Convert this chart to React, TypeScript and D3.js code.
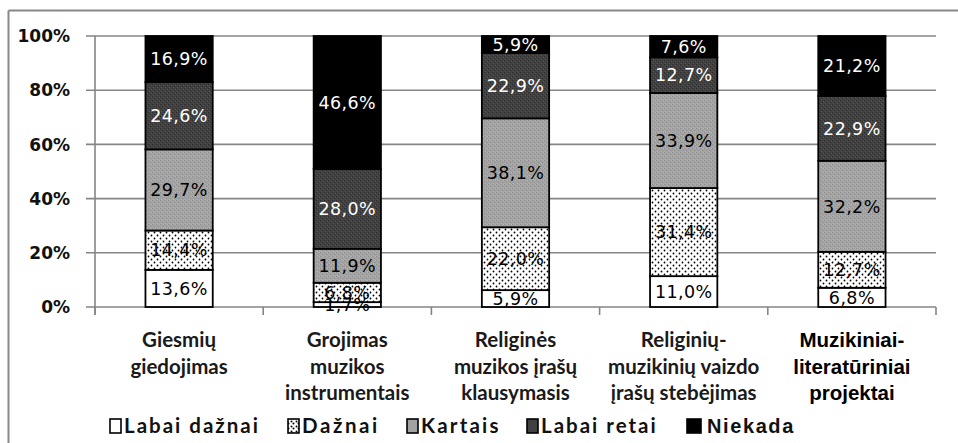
import React from "react";
import * as d3 from "d3";

const categories: string[][] = [
  ["Giesmių", "giedojimas"],
  ["Grojimas", "muzikos", "instrumentais"],
  ["Religinės", "muzikos įrašų", "klausymasis"],
  ["Religinių-", "muzikinių vaizdo", "įrašų stebėjimas"],
  ["Muzikiniai-", "literatūriniai", "projektai"],
];
const seriesNames = ["Labai dažnai", "Dažnai", "Kartais", "Labai retai", "Niekada"];
const labaiDaznai = [13.6, 1.7, 5.9, 11.0, 6.8];
const daznai = [14.4, 6.8, 22.0, 31.4, 12.7];
const kartais = [29.7, 11.9, 38.1, 33.9, 32.2];
const labaiRetai = [24.6, 28.0, 22.9, 12.7, 22.9];
const niekada = [16.9, 46.6, 5.9, 7.6, 21.2];
const yTicks = [0, 0.2, 0.4, 0.6, 0.8, 1.0];
const yTickLabels = ["0%", "20%", "40%", "60%", "80%", "100%"];

const W = 958;
const H = 443;
const fills = ["#ffffff", "url(#dots)", "url(#gray)", "url(#dark)", "#000000"];
const labelColors = ["#000", "#000", "#000", "#fff", "#fff"];
const legendFills = ["#ffffff", "url(#dotsL)", "#a2a2a2", "#414141", "#000000"];

export default function App() {
  const keys = ["s0", "s1", "s2", "s3", "s4"];
  const seriesArrays = [labaiDaznai, daznai, kartais, labaiRetai, niekada];
  const rows = categories.map((c, i) => {
    const r: any = { cat: c.join(" ") };
    keys.forEach((k, j) => (r[k] = seriesArrays[j][i]));
    return r;
  });
  const stack = d3.stack<any>().keys(keys).offset(d3.stackOffsetExpand);
  const stacked = stack(rows);

  const x = d3
    .scaleBand<string>()
    .domain(rows.map((r) => r.cat))
    .range([95, 936])
    .paddingInner(0.6)
    .paddingOuter(0.3);
  const y = d3.scaleLinear().domain([0, 1]).range([307, 36]);
  const step = x.step();
  const bw = x.bandwidth();

  const boundaries = d3.range(categories.length + 1).map((i) => 95 + i * step);

  const legendItems = [
    { box: 110, text: 124, font: "Lato", ls: 2 },
    { box: 288, text: 302, font: "Lato", ls: 2.6 },
    { box: 407, text: 421, font: "Lato", ls: 2.2 },
    { box: 527, text: 541, font: "Lato", ls: 2 },
    { box: 687, text: 707, font: "Liberation Sans", ls: 1.6 },
  ];

  return (
    <svg width={W} height={H} style={{ position: "absolute", left: 0, top: 0, background: "#fff" }}>
      <defs>
        <pattern id="dots" width="6" height="6" patternUnits="userSpaceOnUse">
          <rect width="6" height="6" fill="#fff" />
          <circle cx="1.5" cy="1.5" r="0.9" fill="#000" />
          <circle cx="4.5" cy="4.5" r="0.9" fill="#000" />
        </pattern>
        <pattern id="dotsL" width="5" height="5" patternUnits="userSpaceOnUse">
          <rect width="5" height="5" fill="#fff" />
          <circle cx="1.5" cy="1.5" r="1" fill="#000" />
          <circle cx="3.5" cy="3.5" r="1" fill="#000" />
        </pattern>
        <pattern id="gray" width="4" height="4" patternUnits="userSpaceOnUse">
          <rect width="4" height="4" fill="#a3a3a3" />
          <rect x="0" y="0" width="1" height="1" fill="#8f8f8f" />
          <rect x="2" y="2" width="1" height="1" fill="#8f8f8f" />
          <rect x="3" y="0" width="1" height="1" fill="#b3b3b3" />
          <rect x="1" y="3" width="1" height="1" fill="#b3b3b3" />
        </pattern>
        <pattern id="dark" width="4" height="4" patternUnits="userSpaceOnUse">
          <rect width="4" height="4" fill="#414141" />
          <rect x="0" y="0" width="1" height="1" fill="#2c2c2c" />
          <rect x="2" y="2" width="1" height="1" fill="#2c2c2c" />
          <rect x="3" y="1" width="1" height="1" fill="#555" />
          <rect x="1" y="3" width="1" height="1" fill="#555" />
        </pattern>
      </defs>
      <rect width={W} height={H} fill="#fff" />
      {/* frame */}
      <line x1={8.5} y1={10.5} x2={W} y2={10.5} stroke="#888" strokeWidth={2} />
      <line x1={8.5} y1={10.5} x2={8.5} y2={H} stroke="#888" strokeWidth={2} />

      {/* gridlines */}
      {yTicks.map((t, i) => (
        <g key={i}>
          <line x1={86} x2={936} y1={y(t)} y2={y(t)} stroke="#858585" strokeWidth={1.6} />
          <text
            x={70}
            y={y(t)}
            dy="0.36em"
            textAnchor="end"
            fontFamily="DejaVu Sans"
            fontWeight="bold"
            fontSize={17}
            fill="#111"
          >
            {yTickLabels[i]}
          </text>
        </g>
      ))}
      {/* y axis */}
      <line x1={95} x2={95} y1={36} y2={315} stroke="#858585" strokeWidth={1.6} />
      {boundaries.map((b, i) => (
        <line key={i} x1={b} x2={b} y1={307} y2={315} stroke="#858585" strokeWidth={1.6} />
      ))}

      {/* bars */}
      {stacked.map((s, si) => (
        <g key={si}>
          {s.map((d, ci) => (
            <rect
              key={ci}
              x={x(rows[ci].cat)}
              y={y(d[1])}
              width={bw}
              height={y(d[0]) - y(d[1])}
              fill={fills[si]}
              stroke="#000"
              strokeWidth={1.8}
            />
          ))}
        </g>
      ))}
      {/* labels */}
      {stacked.map((s, si) => (
        <g key={si}>
          {s.map((d, ci) => (
            <text
              key={ci}
              x={(x(rows[ci].cat) as number) + bw / 2}
              y={(y(d[0]) + y(d[1])) / 2}
              dy="0.36em"
              textAnchor="middle"
              fontFamily="DejaVu Sans"
              fontSize={17.5}
              letterSpacing={0.4}
              fill={labelColors[si]}
            >
              {seriesArrays[si][ci].toFixed(1).replace(".", ",") + "%"}
            </text>
          ))}
        </g>
      ))}

      {/* category labels */}
      {categories.map((lines, ci) => {
        const cx = (x(rows[ci].cat) as number) + bw / 2;
        const last = ci === categories.length - 1;
        return (
          <text
            key={ci}
            x={cx}
            textAnchor="middle"
            fontFamily={last ? "Liberation Sans" : "Lato"}
            fontWeight="bold"
            fontSize={last ? 20.5 : 20.5}
            fill={last ? "#000" : "#1a1a1a"}
          >
            {lines.map((l, li) => (
              <tspan key={li} x={cx} y={347 + li * 26.5}>
                {l}
              </tspan>
            ))}
          </text>
        );
      })}

      {/* legend */}
      {seriesNames.map((n, i) => (
        <g key={i}>
          <rect
            x={legendItems[i].box}
            y={419}
            width={i === 4 ? 14 : 11}
            height={14}
            fill={legendFills[i]}
            stroke="#000"
            strokeWidth={1.6}
          />
          <text
            x={legendItems[i].text}
            y={433}
            fontFamily={legendItems[i].font}
            fontWeight="bold"
            fontSize={i === 4 ? 20 : 20.5}
            letterSpacing={legendItems[i].ls}
            fill="#111"
          >
            {n}
          </text>
        </g>
      ))}
    </svg>
  );
}
